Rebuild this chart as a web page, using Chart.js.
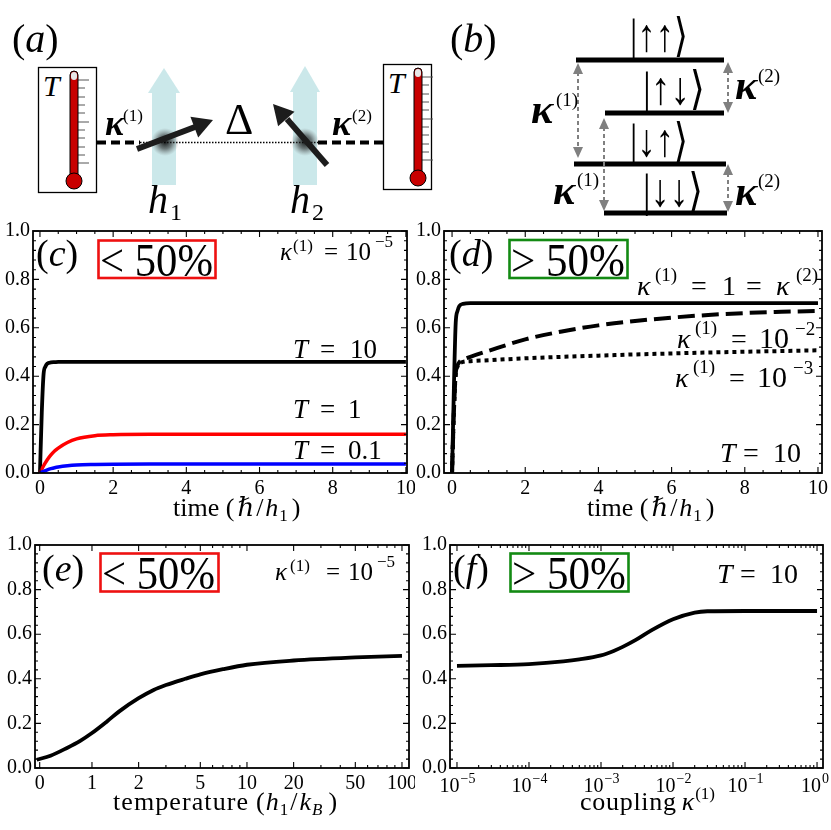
<!DOCTYPE html>
<html>
<head>
<meta charset="utf-8">
<script src="https://cdn.jsdelivr.net/npm/chart.js@4.4.0/dist/chart.umd.min.js"></script>
<style>
body { margin: 0; background: #fff; }
#page { position: relative; width: 831px; height: 830px; overflow: hidden; font-family: 'Liberation Serif', serif; }
#page canvas { position: absolute; }
#overlay { position: absolute; left: 0; top: 0; pointer-events: none; }
</style>
</head>
<body>
<div id="page">
<canvas id="chartC" width="415" height="315" style="left:0;top:215px"></canvas>
<canvas id="chartD" width="416" height="315" style="left:415px;top:215px"></canvas>
<canvas id="chartE" width="415" height="300" style="left:0;top:530px"></canvas>
<canvas id="chartF" width="416" height="300" style="left:415px;top:530px"></canvas>

<svg id="overlay" width="831" height="830" xmlns="http://www.w3.org/2000/svg" font-family="Liberation Serif, DejaVu Serif, serif">
  <defs>
    <radialGradient id="blob">
      <stop offset="0" stop-color="#000" stop-opacity="0.9"/>
      <stop offset="0.5" stop-color="#222" stop-opacity="0.55"/>
      <stop offset="1" stop-color="#666" stop-opacity="0"/>
    </radialGradient>
  </defs>

  <!-- (a) esquema -->
  <text x="12" y="52" font-size="40">(<tspan font-style="italic">a</tspan>)</text>
  <g id="thermos"></g>
  <g fill="#a9d8dc" fill-opacity="0.6">
    <rect x="152" y="93" width="24" height="92"/>
    <polygon points="148,93 180,93 164,68"/>
    <rect x="293" y="92" width="24" height="93"/>
    <polygon points="290,92 320,92 305,66"/>
  </g>
  <line x1="97" y1="142.5" x2="140" y2="142.5" stroke="#000" stroke-width="4" stroke-dasharray="9 5"/>
  <line x1="318" y1="142.5" x2="383" y2="142.5" stroke="#000" stroke-width="4" stroke-dasharray="9 5"/>
  <line x1="140" y1="142.5" x2="318" y2="142.5" stroke="#000" stroke-width="1.4" stroke-dasharray="1.5 1.5"/>
  <circle cx="165" cy="142" r="14" fill="url(#blob)"/>
  <circle cx="305" cy="142" r="14" fill="url(#blob)"/>
  <line x1="137" y1="149" x2="195" y2="127" stroke="#1c1c1c" stroke-width="6"/>
  <polygon points="213,120 198.2,137.4 190.4,116.8" fill="#1c1c1c"/>
  <line x1="327" y1="165" x2="287" y2="119" stroke="#1c1c1c" stroke-width="6"/>
  <polygon points="273,104 294.5,111.7 278.1,126.3" fill="#1c1c1c"/>
  <text x="225" y="134" font-size="44">Δ</text>
  <text x="105" y="135" font-size="36" font-style="italic" font-weight="bold">κ</text>
  <text x="123" y="121" font-size="17">(1)</text>
  <text x="332" y="135" font-size="36" font-style="italic" font-weight="bold">κ</text>
  <text x="352" y="121" font-size="17">(2)</text>
  <text x="148" y="213" font-size="40" font-style="italic">h</text>
  <text x="170" y="220" font-size="24">1</text>
  <text x="290" y="213" font-size="40" font-style="italic">h</text>
  <text x="312" y="220" font-size="24">2</text>

  <!-- (b) niveles -->
  <text x="450" y="52" font-size="40">(<tspan font-style="italic">b</tspan>)</text>
  <g stroke="#000" stroke-width="5">
    <line x1="576" y1="60" x2="724" y2="60"/>
    <line x1="605" y1="113" x2="724" y2="113"/>
    <line x1="574" y1="164" x2="726" y2="164"/>
    <line x1="604" y1="213" x2="727" y2="213"/>
  </g>
  <g font-size="46">
    <text x="630" y="51" textLength="58" lengthAdjust="spacingAndGlyphs">|↑↑⟩</text>
    <text x="643" y="104" textLength="62" lengthAdjust="spacingAndGlyphs">|↑↓⟩</text>
    <text x="630" y="156" textLength="58" lengthAdjust="spacingAndGlyphs">|↓↑⟩</text>
    <text x="643" y="206" textLength="60" lengthAdjust="spacingAndGlyphs">|↓↓⟩</text>
  </g>
  <g id="darrows"></g>
  <g font-style="italic" font-weight="bold" font-size="42">
    <text x="531" y="123">κ</text>
    <text x="553" y="204">κ</text>
    <text x="735" y="99">κ</text>
    <text x="735" y="205">κ</text>
  </g>
  <g font-size="19">
    <text x="556" y="106">(1)</text>
    <text x="577" y="186">(1)</text>
    <text x="758" y="82">(2)</text>
    <text x="758" y="187">(2)</text>
  </g>

  <!-- (c) -->
  <text x="36" y="266" font-size="38">(<tspan font-style="italic">c</tspan>)</text>
  <rect x="98.5" y="240.5" width="117" height="37.5" fill="none" stroke="#ee1111" stroke-width="2.6"/>
  <text x="100" y="276" font-size="46" textLength="113" lengthAdjust="spacingAndGlyphs">&lt; 50%</text>
  <text x="280" y="260" font-size="25" font-style="italic">κ</text>
  <text x="293" y="251" font-size="17">(1)</text>
  <text x="324" y="260" font-size="25">=</text>
  <text x="346" y="260" font-size="25">10</text>
  <text x="375" y="247" font-size="17">−5</text>
  <g font-size="27">
    <text x="293" y="358"><tspan font-style="italic">T</tspan><tspan x="320">=</tspan><tspan x="350">10</tspan></text>
    <text x="293" y="418"><tspan font-style="italic">T</tspan><tspan x="320">=</tspan><tspan x="348">1</tspan></text>
    <text x="293" y="459"><tspan font-style="italic">T</tspan><tspan x="320">=</tspan><tspan x="348">0.1</tspan></text>
  </g>
  <text x="173" y="516" font-size="26">time (<tspan dx="3" font-style="italic">ℏ</tspan><tspan dx="2">/</tspan><tspan dx="2" font-style="italic">h</tspan><tspan dx="1" dy="5" font-size="17">1</tspan><tspan dx="4" dy="-5">)</tspan></text>

  <!-- (d) -->
  <text x="449" y="266" font-size="38">(<tspan font-style="italic">d</tspan>)</text>
  <rect x="509.5" y="240" width="118" height="38" fill="none" stroke="#138a13" stroke-width="2.6"/>
  <text x="511" y="276" font-size="46" textLength="114" lengthAdjust="spacingAndGlyphs">&gt; 50%</text>
  <g font-size="28">
    <text x="637" y="295" font-style="italic">κ</text>
    <text x="655" y="281" font-size="19">(1)</text>
    <text x="691" y="295">=</text>
    <text x="722" y="295">1</text>
    <text x="746" y="295">=</text>
    <text x="776" y="295" font-style="italic">κ</text>
    <text x="796" y="281" font-size="19">(2)</text>

    <text x="677" y="348" font-style="italic">κ</text>
    <text x="695" y="334" font-size="19">(1)</text>
    <text x="731" y="348">=</text>
    <text x="759" y="348" font-size="30">10</text>
    <text x="795" y="335" font-size="19">−2</text>

    <text x="675" y="387" font-style="italic">κ</text>
    <text x="693" y="373" font-size="19">(1)</text>
    <text x="729" y="387">=</text>
    <text x="757" y="387" font-size="30">10</text>
    <text x="793" y="374" font-size="19">−3</text>

    <text x="720" y="462"><tspan font-style="italic">T</tspan><tspan x="743">=</tspan><tspan x="773">10</tspan></text>
  </g>
  <text x="587" y="516" font-size="26">time (<tspan dx="3" font-style="italic">ℏ</tspan><tspan dx="2">/</tspan><tspan dx="2" font-style="italic">h</tspan><tspan dx="1" dy="5" font-size="17">1</tspan><tspan dx="4" dy="-5">)</tspan></text>

  <!-- (e) -->
  <text x="42" y="581" font-size="38">(<tspan font-style="italic">e</tspan>)</text>
  <rect x="100.5" y="553.5" width="118" height="38" fill="none" stroke="#ee1111" stroke-width="2.6"/>
  <text x="102" y="589" font-size="46" textLength="113" lengthAdjust="spacingAndGlyphs">&lt; 50%</text>
  <text x="275" y="580" font-size="25" font-style="italic">κ</text>
  <text x="290" y="571" font-size="17">(1)</text>
  <text x="326" y="580" font-size="25">=</text>
  <text x="348" y="580" font-size="25">10</text>
  <text x="377" y="567" font-size="17">−5</text>
  <text x="113" y="810" font-size="26"><tspan textLength="135" lengthAdjust="spacing">temperature</tspan><tspan dx="7">(</tspan><tspan dx="1" font-style="italic">h</tspan><tspan dx="1" dy="5" font-size="17">1</tspan><tspan dx="2" dy="-5">/</tspan><tspan dx="2" font-style="italic">k</tspan><tspan dx="1" dy="5" font-size="17" font-style="italic">B</tspan><tspan dx="6" dy="-5">)</tspan></text>

  <!-- (f) -->
  <text x="453" y="581" font-size="38">(<tspan font-style="italic">f</tspan>)</text>
  <rect x="510.5" y="553.5" width="118" height="38" fill="none" stroke="#138a13" stroke-width="2.6"/>
  <text x="512" y="589" font-size="46" textLength="114" lengthAdjust="spacingAndGlyphs">&gt; 50%</text>
  <text x="717" y="583" font-size="28"><tspan font-style="italic">T</tspan><tspan x="740">=</tspan><tspan x="770">10</tspan></text>
  <text x="580" y="810" font-size="26"><tspan textLength="96" lengthAdjust="spacing">coupling</tspan><tspan dx="5" font-style="italic">κ</tspan><tspan dx="1" dy="-11" font-size="17">(1)</tspan></text>
</svg>
</div>

<script>
// ---------- datos ----------
// (c) tiempo vs valor, kappa1 = 1e-5
var timeC = [0, 0.05, 0.1, 0.15, 0.2, 0.3, 0.4, 0.5, 0.75, 1, 1.5, 2, 3, 4, 6, 8, 10];
var sqT10 = [0, 0.25, 0.41, 0.44, 0.452, 0.457, 0.458, 0.459, 0.459, 0.459, 0.459, 0.459, 0.459, 0.459, 0.459, 0.459, 0.459];
var sqT1 = [0, 0.016, 0.03, 0.043, 0.055, 0.075, 0.091, 0.103, 0.126, 0.141, 0.154, 0.158, 0.16, 0.16, 0.16, 0.16, 0.16];
var sqT01 = [0, 0.004, 0.007, 0.01, 0.013, 0.018, 0.022, 0.025, 0.03, 0.033, 0.035, 0.036, 0.037, 0.037, 0.037, 0.037, 0.037];

// (d) tiempo vs valor, T = 10
var timeD = [0, 0.05, 0.1, 0.15, 0.2, 0.3, 0.5, 1, 2, 3, 4, 5, 6, 7, 8, 9, 10];
var sqK1 = [0, 0.35, 0.62, 0.67, 0.69, 0.699, 0.702, 0.702, 0.702, 0.702, 0.702, 0.702, 0.702, 0.702, 0.702, 0.702, 0.702];
var sqK2 = [0, 0.25, 0.41, 0.445, 0.458, 0.468, 0.48, 0.505, 0.552, 0.585, 0.61, 0.628, 0.642, 0.653, 0.661, 0.666, 0.67];
var sqK3 = [0, 0.25, 0.41, 0.44, 0.452, 0.459, 0.462, 0.466, 0.474, 0.48, 0.485, 0.49, 0.494, 0.498, 0.501, 0.504, 0.507];

// (e) temperatura
var tempE = [0.44, 0.54, 0.69, 0.84, 1, 1.25, 1.5, 2, 2.5, 3, 4, 5, 7, 10, 20, 50, 100];
var sqE = [0.037, 0.055, 0.09, 0.122, 0.157, 0.209, 0.254, 0.313, 0.35, 0.372, 0.4, 0.42, 0.443, 0.463, 0.482, 0.496, 0.503];

// (f) acoplamiento
var kappaF = [1e-5, 3e-5, 1e-4, 3e-4, 5e-4, 1e-3, 1.5e-3, 2e-3, 3e-3, 5e-3, 1e-2, 2e-2, 3e-2, 1e-1, 1];
var sqF = [0.458, 0.461, 0.466, 0.478, 0.487, 0.505, 0.525, 0.543, 0.573, 0.617, 0.667, 0.697, 0.703, 0.704, 0.704];

// ticks
var yTicks = [0, 0.2, 0.4, 0.6, 0.8, 1.0];
var timeTicks = [0, 2, 4, 6, 8, 10];
var tempTicks = [0.46, 1, 2, 5, 10, 20, 50, 100];
var tempTickLabels = ['0', '1', '2', '5', '10', '20', '50', '100'];
var tempMinor = [3, 4, 6, 7, 8, 9, 30, 40, 60, 70, 80, 90];
var kappaTicks = [1e-5, 1e-4, 1e-3, 1e-2, 1e-1, 1];
var kappaTickExps = ['−5', '−4', '−3', '−2', '−1', '0'];

var yMinor = [];
for (var i = 1; i < 25; i++) { if (i % 5) yMinor.push(i * 0.04); }
var timeMinor = [];
for (var j = 1; j < 20; j++) { if (j % 4) timeMinor.push(j * 0.5); }
var kappaMinor = [];
kappaTicks.slice(0, 5).forEach(function (d) { for (var m = 2; m < 10; m++) kappaMinor.push(d * m); });

// ---------- marco con ticks hacia adentro ----------
const frameTicks = {
  id: 'frameTicks',
  afterDatasetsDraw(chart, args, o) {
    const ctx = chart.ctx, a = chart.chartArea;
    const sx = chart.scales.x, sy = chart.scales.y;
    ctx.save();
    ctx.strokeStyle = '#000';
    ctx.lineWidth = 1.1;
    ctx.beginPath();
    const xt = (list, len) => list.forEach(v => {
      const p = sx.getPixelForValue(v);
      if (p < a.left || p > a.right) return;
      ctx.moveTo(p, a.bottom); ctx.lineTo(p, a.bottom - len);
      ctx.moveTo(p, a.top); ctx.lineTo(p, a.top + len);
    });
    const yt = (list, len) => list.forEach(v => {
      const p = sy.getPixelForValue(v);
      ctx.moveTo(a.left, p); ctx.lineTo(a.left + len, p);
      ctx.moveTo(a.right, p); ctx.lineTo(a.right - len, p);
    });
    xt(o.xMajor, 6); xt(o.xMinor, 3);
    yt(o.yMajor, 6); yt(o.yMinor, 3);
    ctx.stroke();
    ctx.lineWidth = 1.8;
    ctx.strokeRect(a.left, a.top, a.right - a.left, a.bottom - a.top);
    ctx.restore();
  }
};

// etiquetas 10^n con exponente elevado, en la posicion de la escala
const powerLabels = {
  id: 'powerLabels',
  afterDraw(chart, args, o) {
    if (!o.exps) return;
    const ctx = chart.ctx, sx = chart.scales.x, a = chart.chartArea;
    ctx.save();
    ctx.fillStyle = '#000';
    ctx.textBaseline = 'alphabetic';
    ctx.textAlign = 'left';
    o.values.forEach((v, k) => {
      ctx.font = "20px 'Liberation Serif', serif";
      const wb = ctx.measureText('10').width;
      ctx.font = "14px 'Liberation Serif', serif";
      const we = ctx.measureText(o.exps[k]).width;
      let left = sx.getPixelForValue(v) - (wb + we) / 2;
      left = Math.min(left, chart.width - 3 - wb - we);
      ctx.font = "20px 'Liberation Serif', serif";
      ctx.fillText('10', left, a.bottom + 24);
      ctx.font = "14px 'Liberation Serif', serif";
      ctx.fillText(o.exps[k], left + wb + 1, a.bottom + 15);
    });
    ctx.restore();
  }
};

function fixedBox(w, h) {
  return function (s) {
    if (w != null) s.width = w;
    if (h != null) s.height = h;
    s.paddingLeft = 0; s.paddingRight = 0; s.paddingTop = 0; s.paddingBottom = 0;
  };
}

const tickFont = { family: "'Liberation Serif', serif", size: 20 };

function lineSet(xs, ys, color, width, dash) {
  return {
    data: xs.map((x, i) => ({ x: x, y: ys[i] })),
    borderColor: color,
    borderWidth: width,
    borderDash: dash || [],
    borderCapStyle: 'butt',
    pointRadius: 0,
    fill: false,
    cubicInterpolationMode: 'monotone'
  };
}

function makeChart(id, o) {
  return new Chart(document.getElementById(id), {
    type: 'line',
    data: { datasets: o.datasets },
    plugins: [frameTicks, powerLabels],
    options: {
      responsive: false,
      animation: false,
      layout: { padding: { left: 0, right: o.padRight, top: o.padTop, bottom: 0 } },
      plugins: {
        legend: { display: false },
        tooltip: { enabled: false },
        frameTicks: { xMajor: o.xMajor, xMinor: o.xMinor, yMajor: yTicks, yMinor: yMinor },
        powerLabels: { values: o.xMajor, exps: o.xExps || null }
      },
      scales: {
        x: {
          type: o.xType,
          min: o.xMin,
          max: o.xMax,
          grid: { display: false, drawTicks: false },
          border: { display: false },
          afterBuildTicks: s => { s.ticks = o.xMajor.map(v => ({ value: v })); },
          afterFit: fixedBox(null, o.xHeight),
          ticks: {
            display: !o.xExps,
            color: '#000', font: tickFont, padding: 4, maxRotation: 0, autoSkip: false,
            callback: (v, i) => o.xLabels ? o.xLabels[i] : ''
          }
        },
        y: {
          type: 'linear',
          min: 0,
          max: 1,
          grid: { display: false, drawTicks: false },
          border: { display: false },
          afterBuildTicks: s => { s.ticks = yTicks.map(v => ({ value: v })); },
          afterFit: fixedBox(o.yWidth, null),
          ticks: { color: '#000', font: tickFont, padding: 3, callback: v => v.toFixed(1) }
        }
      }
    }
  });
}

makeChart('chartC', {
  datasets: [
    lineSet(timeC, sqT01, '#0000ff', 3.5),
    lineSet(timeC, sqT1, '#ff0000', 3.5),
    lineSet(timeC, sqT10, '#000000', 3.8)
  ],
  xType: 'linear', xMin: -0.19, xMax: 10.03,
  xMajor: timeTicks, xMinor: timeMinor, xLabels: timeTicks.map(String),
  padRight: 8, padTop: 16, yWidth: 33, xHeight: 57
});

makeChart('chartD', {
  datasets: [
    lineSet(timeD, sqK3, '#000000', 4, [4, 4]),
    lineSet(timeD, sqK2, '#000000', 4, [17, 7]),
    lineSet(timeD, sqK1, '#000000', 3.8)
  ],
  xType: 'linear', xMin: -0.22, xMax: 10.11,
  xMajor: timeTicks, xMinor: timeMinor, xLabels: timeTicks.map(String),
  padRight: 9, padTop: 16, yWidth: 29, xHeight: 57
});

makeChart('chartE', {
  datasets: [lineSet(tempE, sqE, '#000000', 3.8)],
  xType: 'logarithmic', xMin: 0.429, xMax: 111,
  xMajor: tempTicks, xMinor: tempMinor, xLabels: tempTickLabels,
  padRight: 6, padTop: 15, yWidth: 35, xHeight: 62
});

makeChart('chartF', {
  datasets: [lineSet(kappaF, sqF, '#000000', 3.8)],
  xType: 'logarithmic', xMin: 8e-6, xMax: 1.21,
  xMajor: kappaTicks, xMinor: kappaMinor, xExps: kappaTickExps,
  padRight: 8, padTop: 15, yWidth: 35, xHeight: 62
});

// ---------- termometros y flechas de (a), (b) ----------
function thermo(x, y, w, h, tubeX) {
  var s = '<g transform="translate(' + x + ',' + y + ')">';
  s += '<rect x="0.5" y="0.5" width="' + w + '" height="' + h + '" fill="#fff" stroke="#000" stroke-width="1.3"/>';
  s += '<text x="5" y="29" font-size="30" font-style="italic">T</text>';
  [13, 21, 30, 38, 46, 55, 63, 71, 80, 88, 96].forEach(function (ty, k) {
    var len = (k % 5 === 0) ? 11 : 7;
    s += '<line x1="' + (tubeX + 8) + '" y1="' + ty + '" x2="' + (tubeX + 8 + len) + '" y2="' + ty + '" stroke="#555" stroke-width="1"/>';
  });
  s += '<rect x="' + tubeX + '" y="4" width="8" height="108" rx="4" fill="#c80000" stroke="#000" stroke-width="1"/>';
  s += '<rect x="' + (tubeX + 1) + '" y="5" width="6" height="8" rx="3" fill="#e6e6e6"/>';
  s += '<circle cx="' + (tubeX + 4) + '" cy="114" r="8" fill="#c80000" stroke="#000" stroke-width="1"/>';
  return s + '</g>';
}
document.getElementById('thermos').innerHTML = thermo(38, 67, 58, 125, 32) + thermo(383, 64, 48, 125, 31);

function darrow(x, y1, y2) {
  var c = '#808080';
  return '<line x1="' + x + '" y1="' + (y1 + 9) + '" x2="' + x + '" y2="' + (y2 - 9) + '" stroke="' + c + '" stroke-width="2" stroke-dasharray="4 3"/>' +
    '<polygon points="' + x + ',' + y1 + ' ' + (x - 5) + ',' + (y1 + 11) + ' ' + (x + 5) + ',' + (y1 + 11) + '" fill="' + c + '"/>' +
    '<polygon points="' + x + ',' + y2 + ' ' + (x - 5) + ',' + (y2 - 11) + ' ' + (x + 5) + ',' + (y2 - 11) + '" fill="' + c + '"/>';
}
document.getElementById('darrows').innerHTML =
  darrow(578, 63, 158) + darrow(604, 118, 211) + darrow(728, 62, 113) + darrow(728, 164, 212);
</script>
</body>
</html>
